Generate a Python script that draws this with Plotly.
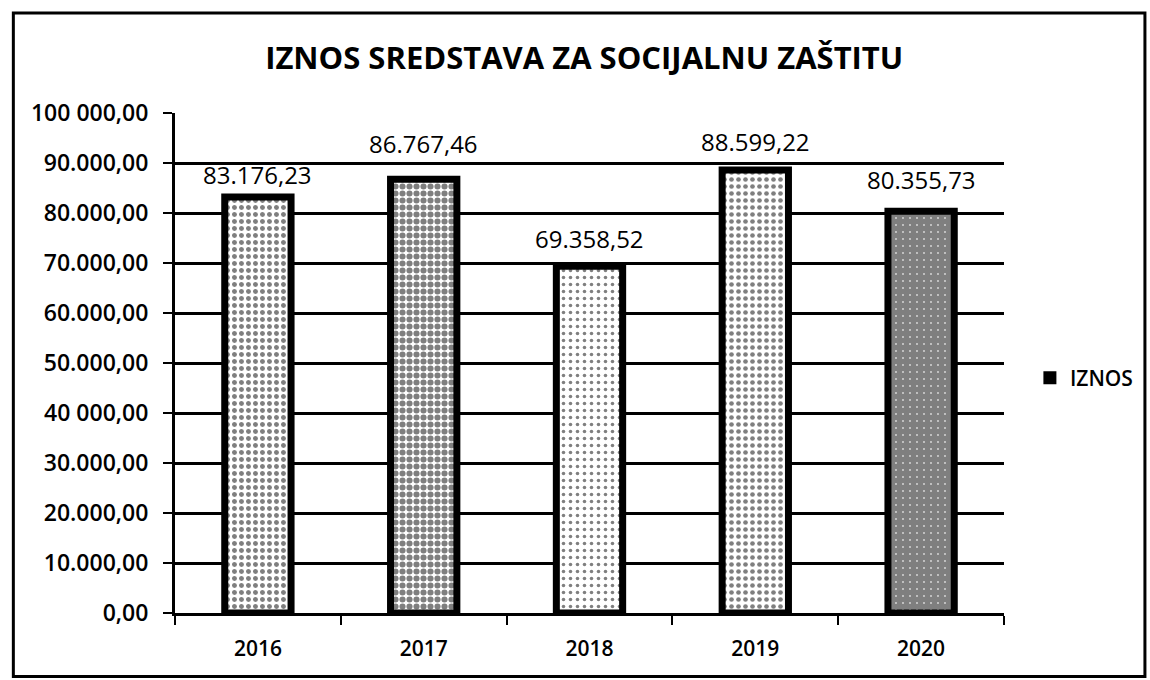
import plotly.graph_objects as go

years = ["2016", "2017", "2018", "2019", "2020"]
iznos = [83176.23, 86767.46, 69358.52, 88599.22, 80355.73]
value_labels = ["83.176,23", "86.767,46", "69.358,52", "88.599,22", "80.355,73"]
tick_vals = [0, 10000, 20000, 30000, 40000, 50000, 60000, 70000, 80000, 90000, 100000]
tick_text = ["0,00", "10.000,00", "20.000,00", "30.000,00", "40 000,00", "50.000,00",
             "60.000,00", "70.000,00", "80.000,00", "90.000,00", "100 000,00"]

# styling: fill density of each bar and vertical pixel offset of each value label
solidity = [0.4, 0.6, 0.2, 0.35, 0.9]
label_shift_px = [23, 36, 28, 29, 32]

FONT = "Open Sans"

fig = go.Figure()
fig.add_trace(go.Bar(
    x=years, y=iznos, name="IZNOS", showlegend=False,
    marker=dict(
        color="white",
        line=dict(color="black", width=7),
        pattern=dict(shape=".", fgcolor="black", bgcolor="white",
                     solidity=solidity, size=7, fillmode="overlay"),
    ),
))
fig.add_trace(go.Scatter(
    x=[years[0]], y=[None], mode="markers", name="IZNOS",
    marker=dict(symbol="square", color="black", size=13),
))

# value labels: category index positions on the categorical x axis
for i, (val, lab, sh) in enumerate(zip(iznos, value_labels, label_shift_px)):
    fig.add_annotation(x=i, y=val, xref="x", yref="y", text=lab, showarrow=False,
                       xanchor="center", yanchor="middle", yshift=sh,
                       font=dict(family=FONT, size=24, color="black", weight=500))

fig.update_layout(
    width=1150, height=680,
    margin=dict(l=175, r=145, t=113, b=67),
    paper_bgcolor="white", plot_bgcolor="white",
    bargap=0.6,
    title=dict(text="IZNOS SREDSTAVA ZA SOCIJALNU ZAŠTITU",
               x=0.508, xanchor="center", y=0.915, yanchor="middle",
               font=dict(family=FONT, size=31, color="black", weight=700)),
    showlegend=True,
    legend=dict(x=1.03, y=0.47, xanchor="left", yanchor="middle",
                font=dict(family=FONT, size=21, color="black", weight=600),
                bgcolor="rgba(0,0,0,0)", itemwidth=30),
    font=dict(family=FONT, color="black"),
    xaxis=dict(
        type="category", categoryorder="array", categoryarray=years,
        range=[-0.5, len(years) - 0.5], autorange=False,
        showline=True, linecolor="black", linewidth=3,
        ticks="outside", tickson="boundaries", ticklen=9, tickwidth=2, tickcolor="black",
        tickfont=dict(family=FONT, size=21, color="black", weight=600),
        ticklabelstandoff=15,
        showgrid=False,
    ),
    yaxis=dict(
        range=[0, 100000], autorange=False, tickvals=tick_vals, ticktext=tick_text,
        showline=True, linecolor="black", linewidth=3,
        ticks="outside", ticklen=9, tickwidth=2, tickcolor="black",
        showgrid=True, gridcolor="black", gridwidth=3,
        tickfont=dict(family=FONT, size=23, color="black", weight=600),
        ticklabelstandoff=10,
        zeroline=False,
    ),
    shapes=[dict(type="rect", xref="paper", yref="paper",
                 x0=-0.195, x1=1.17, y0=-0.127, y1=1.2,
                 line=dict(color="black", width=3), fillcolor="rgba(0,0,0,0)",
                 layer="below")],
)

fig.write_html("out.html")
